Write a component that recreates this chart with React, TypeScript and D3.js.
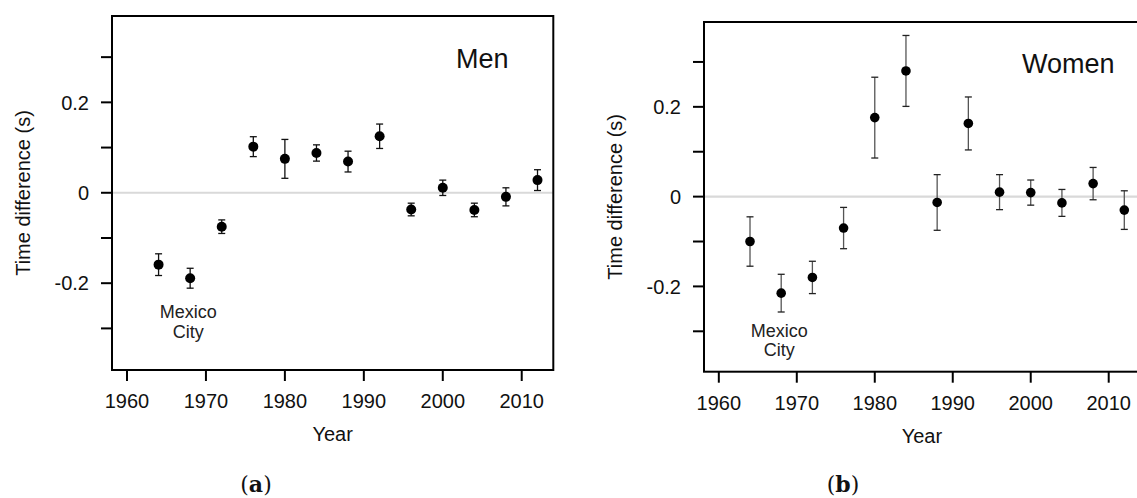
import React from "react";
import * as d3 from "d3";

const years = [1964, 1968, 1972, 1976, 1980, 1984, 1988, 1992, 1996, 2000, 2004, 2008, 2012];
const menValues = [-0.159, -0.189, -0.075, 0.102, 0.075, 0.088, 0.069, 0.125, -0.037, 0.011, -0.038, -0.009, 0.028];
const menErrors = [0.024, 0.022, 0.015, 0.022, 0.043, 0.018, 0.023, 0.027, 0.014, 0.017, 0.015, 0.02, 0.023];
const womenValues = [-0.1, -0.215, -0.18, -0.07, 0.176, 0.28, -0.013, 0.163, 0.01, 0.009, -0.014, 0.029, -0.03];
const womenErrors = [0.055, 0.042, 0.036, 0.046, 0.09, 0.079, 0.062, 0.059, 0.039, 0.028, 0.03, 0.036, 0.043];
const xTicks = [1960, 1970, 1980, 1990, 2000, 2010];
const yTicks = [-0.3, -0.2, -0.1, 0, 0.1, 0.2, 0.3];
const yTickLabels: Record<string, string> = { "-0.2": "-0.2", "0": "0", "0.2": "0.2" };

const FONT = "'Liberation Sans', Arial, Helvetica, sans-serif";

type PanelProps = {
  left: number;
  right: number;
  top: number;
  bottom: number;
  xDomain: [number, number];
  yDomain: [number, number];
  values: number[];
  errors: number[];
  title: string;
  titleX: number;
  titleY: number;
  caption: string;
  captionX: number;
  yLabelX: number;
  mexicoDy: number;
  barColor: string;
  capColor: string;
  r: number;
};

function Panel(p: PanelProps) {
  const x = d3.scaleLinear().domain(p.xDomain).range([p.left, p.right]);
  const y = d3.scaleLinear().domain(p.yDomain).range([p.bottom, p.top]);
  const cap = 3.5;
  const mexX = x(1968);
  const mexY = y(p.values[1] - p.errors[1]);
  return (
    <g>
      <line x1={p.left} x2={p.right} y1={y(0)} y2={y(0)} stroke="#d9d9d9" strokeWidth={2.2} />
      <rect x={p.left} y={p.top} width={p.right - p.left} height={p.bottom - p.top} fill="none" stroke="#000" strokeWidth={2} />
      {yTicks.map((t) => (
        <g key={"yt" + t}>
          <line x1={p.left - 11} x2={p.left} y1={y(t)} y2={y(t)} stroke="#000" strokeWidth={2} />
          {yTickLabels[String(+t.toFixed(1))] !== undefined && (
            <text x={p.left - 23} y={y(t)} dy="0.36em" textAnchor="end" fontFamily={FONT} fontSize={20} fill="#111">
              {yTickLabels[String(+t.toFixed(1))]}
            </text>
          )}
        </g>
      ))}
      {xTicks.map((t) => (
        <g key={"xt" + t}>
          <line x1={x(t)} x2={x(t)} y1={p.bottom} y2={p.bottom + 11} stroke="#000" strokeWidth={2} />
          <text x={x(t)} y={p.bottom + 38} textAnchor="middle" fontFamily={FONT} fontSize={20} fill="#111">
            {t}
          </text>
        </g>
      ))}
      <text x={(p.left + p.right) / 2} y={p.bottom + 71} textAnchor="middle" fontFamily={FONT} fontSize={20} fill="#111">
        Year
      </text>
      <text
        transform={`translate(${p.yLabelX},${(p.top + p.bottom) / 2}) rotate(-90)`}
        dy="0.35em"
        textAnchor="middle"
        fontFamily={FONT}
        fontSize={20}
        fill="#111"
      >
        Time difference (s)
      </text>
      {years.map((yr, i) => {
        const cx = x(yr);
        const hi = y(p.values[i] + p.errors[i]);
        const lo = y(p.values[i] - p.errors[i]);
        return (
          <g key={"pt" + yr}>
            <line x1={cx} x2={cx} y1={hi} y2={lo} stroke={p.barColor} strokeWidth={1.3} />
            <line x1={cx - cap} x2={cx + cap} y1={hi} y2={hi} stroke={p.capColor} strokeWidth={1.3} />
            <line x1={cx - cap} x2={cx + cap} y1={lo} y2={lo} stroke={p.capColor} strokeWidth={1.3} />
            <circle cx={cx} cy={y(p.values[i])} r={p.r} fill="#000" />
          </g>
        );
      })}
      <text x={mexX - 2} y={mexY + p.mexicoDy} textAnchor="middle" fontFamily={FONT} fontSize={18} fill="#222">
        Mexico
      </text>
      <text x={mexX - 2} y={mexY + p.mexicoDy + 19.5} textAnchor="middle" fontFamily={FONT} fontSize={18} fill="#222">
        City
      </text>
      <text x={p.titleX} y={p.titleY} fontFamily={FONT} fontSize={27} fill="#111">
        {p.title}
      </text>
      <text x={p.captionX} y={492} textAnchor="middle" fontFamily="'DejaVu Serif', 'Liberation Serif', serif" fontSize={22} fill="#111">
        (<tspan fontWeight="bold">{p.caption}</tspan>)
      </text>
    </g>
  );
}

export default function App() {
  return (
    <svg
      width={1137}
      height={498}
      viewBox="0 0 1137 498"
      style={{ position: "absolute", left: 0, top: 0, background: "#fff" }}
    >
      <rect x={0} y={0} width={1137} height={498} fill="#fff" />
      <Panel
        left={112}
        right={553.3}
        top={16}
        bottom={370}
        xDomain={[1958.1, 2014]}
        yDomain={[-0.392, 0.391]}
        values={menValues}
        errors={menErrors}
        title="Men"
        titleX={456}
        titleY={68}
        caption="a"
        captionX={256}
        yLabelX={23}
        mexicoDy={30}
        barColor="#111"
        capColor="#111"
        r={5}
      />
      <Panel
        left={704}
        right={1139.9}
        top={22}
        bottom={371.7}
        xDomain={[1958.1, 2014]}
        yDomain={[-0.39, 0.389]}
        values={womenValues}
        errors={womenErrors}
        title="Women"
        titleX={1022}
        titleY={73}
        caption="b"
        captionX={843}
        yLabelX={615}
        mexicoDy={25}
        barColor="#555"
        capColor="#222"
        r={4.8}
      />
    </svg>
  );
}
